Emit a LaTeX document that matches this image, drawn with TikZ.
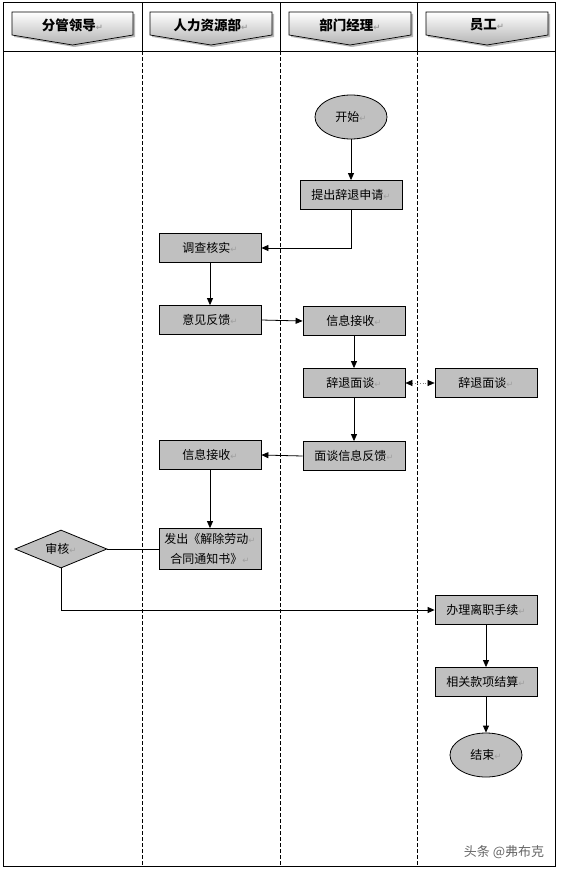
\documentclass[tikz,border=0pt]{standalone}
\usepackage{fontspec}
\setmainfont{Noto Sans CJK SC}
\newfontfamily\symfont{DejaVu Sans}
\usetikzlibrary{shapes.geometric,arrows.meta}
\definecolor{boxgray}{RGB}{192,192,192}
\newcommand{\pmark}{{\symfont\color{gray!75}\fontsize{8.5}{9}\selectfont\char"21B5}}
\tikzset{
  x=1pt,y=-1pt,
  every node/.style={font=\fontsize{12}{20}\selectfont},
  stepbox/.style={draw,line width=0.8pt,fill=boxgray,minimum width=102pt,minimum height=29pt,inner sep=0pt},
  oval/.style={draw,line width=0.8pt,fill=boxgray,ellipse,minimum width=72pt,minimum height=44pt,inner sep=0pt},
  decide/.style={draw,line width=0.8pt,fill=boxgray,diamond,aspect=2.4,minimum width=92pt,minimum height=38pt,inner sep=0pt},
  flow/.style={line width=0.8pt,-{Triangle[length=7pt,width=6pt]}},
  lane/.style={line width=0.6pt,dash pattern=on 4pt off 2pt},
  headtxt/.style={font=\fontsize{13.5}{15}\selectfont\bfseries},
}
\begin{document}
\begin{tikzpicture}
\useasboundingbox (0,0) rectangle (560,872);
\fill[white] (0,0) rectangle (560,872);
% frame
\draw[line width=1pt] (3,3) rectangle (555,866);
\draw[line width=0.8pt] (3,51) -- (555,51);
\foreach \xx in {142,280,417}{
  \draw[line width=0.8pt] (\xx,3) -- (\xx,51);
  \draw[lane] (\xx,51) -- (\xx,866);
}
% header banners
\foreach \l/\r/\t/\n in {12/133/分管领导/h1,150/272/人力资源部/h2,289/411/部门经理/h3,426/548/员工/h4}{
  \fill[gray!55] (\l+2,14) -- (\r+2,14) -- (\r+2,37) -- ({(\l+\r)/2+2},47) -- (\l+2,37) -- cycle;
  \shade[top color=white,bottom color=gray!60,draw=black,line width=0.7pt]
    (\l,12) -- (\r,12) -- (\r,35) -- ({(\l+\r)/2},45) -- (\l,35) -- cycle;
  \node[headtxt] (\n) at ({(\l+\r)/2},25) {\t\pmark};
}
% nodes
\node[oval] (start) at (351,117) {开始\pmark};
\node[stepbox] (tc) at (351,195) {提出辞退申请\pmark};
\node[stepbox] (dc) at (210,248) {调查核实\pmark};
\node[stepbox] (yj) at (210,320) {意见反馈\pmark};
\node[stepbox] (xx1) at (354,321) {信息接收\pmark};
\node[stepbox] (mt1) at (354,383) {辞退面谈\pmark};
\node[stepbox] (mt2) at (486,383) {辞退面谈\pmark};
\node[stepbox] (fk) at (354,456) {面谈信息反馈\pmark};
\node[stepbox] (xx2) at (210,455) {信息接收\pmark};
\node[stepbox,minimum height=41pt,align=center] (fc) at (210,549) {发出《解除劳动\pmark\\合同通知书》\pmark};
\node[decide] (sh) at (61,549) {审核\pmark};
\node[stepbox] (bl) at (486,610) {办理离职手续\pmark};
\node[stepbox] (js) at (486,682) {相关款项结算\pmark};
\node[oval] (end) at (486,755) {结束\pmark};
\node[text=gray!80!black,font=\fontsize{13}{14}\selectfont] (wm) at (504,852) {头条 @弗布克};
% connectors
\draw[flow] (start) -- (tc);
\draw[flow] (tc.south) |- (dc.east);
\draw[flow] (dc) -- (yj);
\draw[flow] (yj.east) -- (xx1.west);
\draw[flow] (xx1) -- (mt1);
\draw[line width=0.6pt,gray,dotted,{Triangle[length=7pt,width=6pt,black]}-{Triangle[length=7pt,width=6pt,black]}] (mt1.east) -- (mt2.west);
\draw[flow] (mt1) -- (fk);
\draw[flow] (fk.west) -- (xx2.east);
\draw[flow] (xx2) -- (fc);
\draw[line width=0.8pt] (fc.west) -- (sh.east);
\draw[flow] (sh.south) |- (bl.west);
\draw[flow] (bl) -- (js);
\draw[flow] (js) -- (end);
\end{tikzpicture}
\end{document}
